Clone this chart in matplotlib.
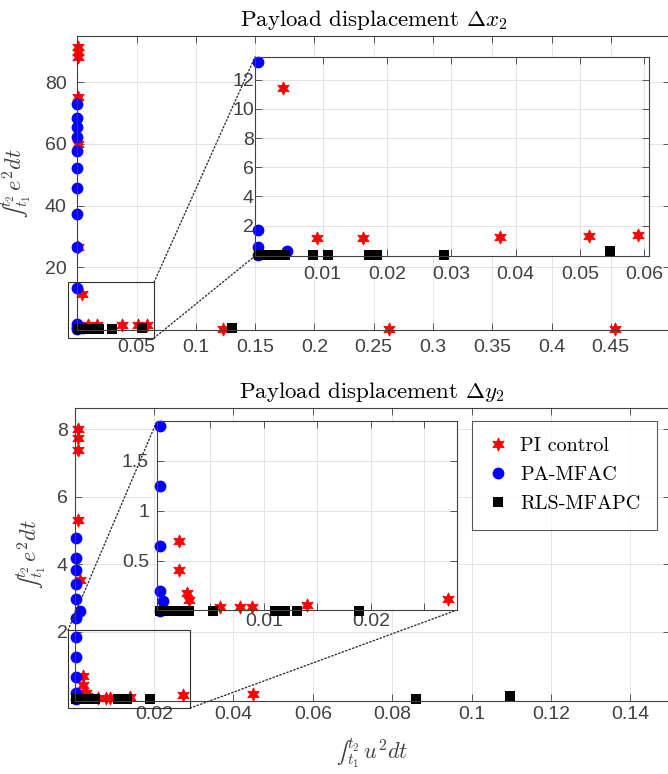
import numpy as np
import matplotlib
matplotlib.use("Agg")
import matplotlib.pyplot as plt
from matplotlib.patches import Rectangle, ConnectionPatch

plt.rcParams['mathtext.fontset'] = 'cm'
plt.rcParams['font.family'] = 'Liberation Sans'

# ---- Payload displacement dx2 ----
pi_x_dx = [0.0003, 0.0003, 0.0003, 0.0004, 0.0005, 0.0005, 0.0038, 0.0091, 0.0163,
           0.0375, 0.0514, 0.059, 0.1226, 0.2627, 0.454]
pi_y_dx = [91.4, 89.8, 88.2, 75.1, 60.0, 26.5, 11.4, 1.15, 1.15,
           1.25, 1.3, 1.35, 0.0, 0.0, 0.0]
pa_x_dx = [0, 0, 0, 0, 0, 0, 0, 0, 0, 0, 0, 0, 0.0045, 0]
pa_y_dx = [73.0, 68.5, 65.5, 62.2, 57.6, 52.3, 45.7, 37.1, 26.4, 13.2, 1.7, 0.55, 0.3, 0.0]
rls_x_dx = [0.0002, 0.001, 0.0018, 0.0026, 0.0034, 0.0042, 0.0085, 0.0108, 0.0172,
            0.0184, 0.0289, 0.0547, 0.130]
rls_y_dx = [0, 0, 0, 0, 0, 0, 0, 0, 0, 0, 0, 0.3, 0.1]

# ---- Payload displacement dy2 ----
pi_x_dy = [0.0009, 0.0009, 0.0009, 0.0009, 0.0014, 0.0021, 0.0021, 0.0028, 0.003,
           0.0059, 0.0078, 0.0089, 0.014, 0.0272, 0.045]
pi_y_dy = [8.0, 7.74, 7.39, 5.31, 3.53, 0.70, 0.41, 0.18, 0.11,
           0.04, 0.04, 0.04, 0.06, 0.12, 0.17]
pa_x_dy = [0.0003, 0.0003, 0.0003, 0.0003, 0.0003, 0.0003, 0.0014, 0.0003, 0.0003,
           0.0003, 0.0003, 0.0006, 0.0003]
pa_y_dy = [4.79, 4.18, 3.83, 3.41, 2.96, 2.42, 2.62, 1.85, 1.25, 0.65, 0.2, 0.1, 0.0]
rls_x_dy = [0.0003, 0.0008, 0.0013, 0.0018, 0.0023, 0.003, 0.0052, 0.011, 0.012,
            0.0131, 0.0189, 0.086, 0.1097]
rls_y_dy = [0, 0, 0, 0, 0, 0, 0, 0, 0, 0, 0, 0, 0.1]

labels = ['PI control', 'PA-MFAC', 'RLS-MFAPC']
GRAY = '#404040'
hexagram = (6, 1, 0)
ylab = '$\u222b_{t_1}^{t_2}\\, e^2dt$'
xlab = '$\u222b_{t_1}^{t_2}\\, u^2dt$'


def style_axes(ax, xticks, yticks, xlabels=None, ylabels=None, xpad=4, ypad=4):
    ax.set_xticks(xticks)
    ax.set_yticks(yticks)
    if xlabels is not None:
        ax.set_xticklabels(xlabels)
    if ylabels is not None:
        ax.set_yticklabels(ylabels)
    ax.tick_params(direction='in', length=5, width=0.6, colors=GRAY, labelsize=14,
                   top=True, right=True)
    ax.tick_params(axis='x', pad=xpad)
    ax.tick_params(axis='y', pad=ypad)
    for s in ax.spines.values():
        s.set_color(GRAY)
        s.set_linewidth(0.8)
    ax.grid(True, color='#e3e3e3', linewidth=0.7)
    ax.set_axisbelow(True)


def draw_points(ax, data, xlim=None, ylim=None):
    (px, py), (bx, by), (sx, sy) = data
    out = []
    for x, y, kw in [(px, py, dict(marker=hexagram, color='red', ms=9.5, mec='red', mew=0.6)),
                     (bx, by, dict(marker='o', color='blue', ms=8.5, mec='blue', mew=0)),
                     (sx, sy, dict(marker='s', color='black', ms=7, mec='black', mew=0))]:
        x = np.asarray(x, float)
        y = np.asarray(y, float)
        if xlim is not None:
            m = (x >= xlim[0]) & (x <= xlim[1]) & (y >= ylim[0] - 0.2) & (y <= ylim[1])
            x, y = x[m], y[m]
        h, = ax.plot(x, y, linestyle='none', clip_on=False, **kw)
        out.append(h)
    return out


def connect(ax, inset, pts):
    for (xa, ya), (xb, yb) in pts:
        con = ConnectionPatch(xyA=(xa, ya), coordsA='data', axesA=ax,
                              xyB=(xb, yb), coordsB='axes fraction', axesB=inset,
                              linestyle=':', color='#303030', linewidth=1)
        con.set_annotation_clip(False)
        con.set_zorder(2)
        fig.add_artist(con)


fig = plt.figure(figsize=(6.68, 7.74), dpi=100)

# ---------------- top panel ----------------
data_top = [(pi_x_dx, pi_y_dx), (pa_x_dx, pa_y_dx), (rls_x_dx, rls_y_dx)]
ax1 = fig.add_axes([0.1160, 0.5736, 0.8870, 0.3798])
draw_points(ax1, data_top)
ax1.set_xlim(0, 0.5)
ax1.set_ylim(-0.4, 95)
style_axes(ax1, [0.05, 0.1, 0.15, 0.2, 0.25, 0.3, 0.35, 0.4, 0.45], [20, 40, 60, 80],
           ['0.05', '0.1', '0.15', '0.2', '0.25', '0.3', '0.35', '0.4', '0.45'],
           xpad=6.7, ypad=7.8)
ax1.set_title(r'Payload displacement $\Delta x_2$', family='cmr10', fontsize=16.5, pad=7)
ax1.set_ylabel(ylab, fontsize=16, color=GRAY)
ax1.yaxis.set_label_coords(-0.075, 0.5)

r1 = [-0.008, -3.0, 0.0726, 18.1]
ax1.add_patch(Rectangle((r1[0], r1[1]), r1[2], r1[3], fill=False, edgecolor='#303030',
                        linewidth=0.8, clip_on=False, zorder=5))

in1 = fig.add_axes([0.3817, 0.6693, 0.5898, 0.2571], zorder=3)
lim1x, lim1y = (-0.0005, 0.0607), (-0.07, 13.55)
draw_points(in1, data_top, lim1x, lim1y)
in1.set_xlim(*lim1x)
in1.set_ylim(*lim1y)
style_axes(in1, [0.01, 0.02, 0.03, 0.04, 0.05, 0.06], [2, 4, 6, 8, 10, 12],
           ['0.01', '0.02', '0.03', '0.04', '0.05', '0.06'], xpad=7.4, ypad=0.8)

connect(ax1, in1, [((r1[0] + r1[2], r1[1] + r1[3]), (0, 1)),
                   ((r1[0] + r1[2], r1[1]), (0, 0))])

# ---------------- bottom panel ----------------
data_bot = [(pi_x_dy, pi_y_dy), (pa_x_dy, pa_y_dy), (rls_x_dy, rls_y_dy)]
ax2 = fig.add_axes([0.1117, 0.0943, 0.8913, 0.3786])
handles = draw_points(ax2, data_bot)
ax2.set_xlim(0, 0.15)
ax2.set_ylim(-0.05, 8.63)
style_axes(ax2, [0.02, 0.04, 0.06, 0.08, 0.1, 0.12, 0.14], [2, 4, 6, 8],
           ['0.02', '0.04', '0.06', '0.08', '0.1', '0.12', '0.14'], xpad=3.8, ypad=5)
ax2.set_title(r'Payload displacement $\Delta y_2$', family='cmr10', fontsize=16.5, pad=7)
ax2.set_ylabel(ylab, fontsize=16, color=GRAY)
ax2.yaxis.set_label_coords(-0.045, 0.5)
ax2.set_xlabel(xlab, fontsize=16, color=GRAY)
ax2.xaxis.set_label_coords(0.5, -0.122)

r2 = [-0.00166, -0.26, 0.03076, 2.31]
ax2.add_patch(Rectangle((r2[0], r2[1]), r2[2], r2[3], fill=False, edgecolor='#303030',
                        linewidth=0.8, clip_on=False, zorder=5))

leg = ax2.legend(handles, labels, loc='upper left', bbox_to_anchor=(0.6675, 0.956),
                 borderaxespad=0, prop={'family': 'cmr10', 'size': 14.5}, frameon=True,
                 fancybox=False, edgecolor='#303030', handletextpad=0.6,
                 labelspacing=0.55, borderpad=0.8, handlelength=1.0)
leg.get_frame().set_linewidth(0.8)

in2 = fig.add_axes([0.2350, 0.2119, 0.4491, 0.2442], zorder=3)
lim2x, lim2y = (0, 0.02804), (0.01, 1.9)
draw_points(in2, data_bot, lim2x, lim2y)
in2.set_xlim(*lim2x)
in2.set_ylim(*lim2y)
style_axes(in2, [0.005, 0.01, 0.015, 0.02, 0.025], [0.5, 1, 1.5],
           ['', '0.01', '', '0.02', ''], ['0.5', '1', '1.5'], xpad=2.4, ypad=5.8)

connect(ax2, in2, [((r2[0], r2[1] + r2[3]), (0, 1)),
                   ((r2[0] + r2[2], r2[1]), (1, 0))])

fig.savefig('out.png', dpi=100)
